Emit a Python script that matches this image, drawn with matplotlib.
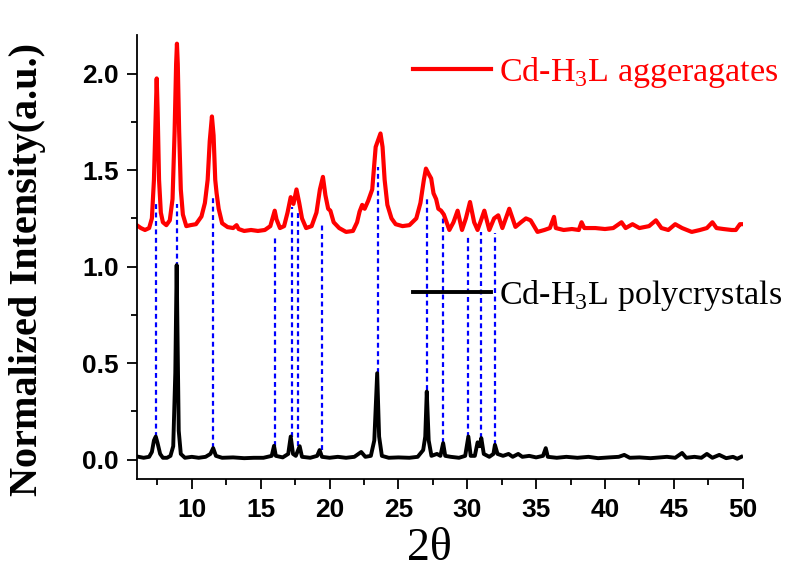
import matplotlib
matplotlib.use('Agg')
import matplotlib.pyplot as plt
from matplotlib.ticker import MultipleLocator

plt.rcParams['mathtext.fontset'] = 'custom'
plt.rcParams['mathtext.rm'] = 'Liberation Serif'

# Cd-H3L aggregates (red trace)
agg_x = [6.0, 6.3, 6.6, 6.9, 7.1, 7.25, 7.38, 7.45, 7.52, 7.62, 7.75, 7.9, 8.15, 8.4, 8.6,
         8.75, 8.86, 8.92, 8.98, 9.08, 9.2, 9.35, 9.6, 9.9, 10.3, 10.7, 10.95, 11.15, 11.3,
         11.46, 11.58, 11.7, 11.8, 11.95, 12.2, 12.6, 13.0, 13.25, 13.4, 13.8, 14.3, 14.8,
         15.3, 15.7, 15.9, 16.02, 16.15, 16.4, 16.7, 16.95, 17.18, 17.38, 17.6, 17.8, 18.0,
         18.3, 18.7, 19.05, 19.3, 19.52, 19.7, 19.9, 20.06, 20.3, 20.7, 21.2, 21.7, 22.0,
         22.18, 22.37, 22.55, 22.8, 23.1, 23.35, 23.55, 23.7, 23.85, 24.0, 24.2, 24.5, 24.8,
         25.3, 25.8, 26.3, 26.6, 26.85, 27.0, 27.2, 27.38, 27.55, 27.74, 27.9, 28.1, 28.3,
         28.7, 29.0, 29.3, 29.62, 29.9, 30.2, 30.5, 30.75, 31.0, 31.24, 31.6, 31.95, 32.25,
         32.55, 32.8, 33.05, 33.5, 33.9, 34.26, 34.6, 35.1, 35.6, 36.0, 36.3, 36.43, 37.0,
         37.6, 38.1, 38.3, 38.5, 39.3, 40.0, 40.6, 41.2, 41.5, 42.0, 42.5, 43.2, 43.7, 44.1,
         44.6, 45.1, 45.6, 46.3, 46.9, 47.4, 47.8, 48.1, 48.6, 49.2, 49.5, 49.8, 49.9]
agg_y = [1.215, 1.20, 1.19, 1.20, 1.25, 1.45, 1.80, 1.975, 1.80, 1.45, 1.28, 1.23, 1.215, 1.24, 1.35,
         1.70, 2.05, 2.155, 2.05, 1.70, 1.40, 1.27, 1.21, 1.215, 1.22, 1.26, 1.33, 1.45, 1.65,
         1.778, 1.68, 1.45, 1.38, 1.30, 1.225, 1.205, 1.20, 1.215, 1.195, 1.185, 1.19, 1.185,
         1.19, 1.21, 1.26, 1.29, 1.245, 1.20, 1.21, 1.28, 1.36, 1.325, 1.40, 1.33, 1.25,
         1.20, 1.21, 1.28, 1.40, 1.465, 1.37, 1.30, 1.29, 1.23, 1.20, 1.18, 1.185, 1.23,
         1.285, 1.32, 1.30, 1.34, 1.40, 1.62, 1.66, 1.69, 1.62, 1.45, 1.32, 1.25, 1.22,
         1.21, 1.215, 1.25, 1.33, 1.45, 1.508, 1.48, 1.457, 1.38, 1.35, 1.30, 1.29, 1.27,
         1.19, 1.23, 1.29, 1.19, 1.25, 1.335, 1.23, 1.19, 1.24, 1.29, 1.19, 1.25, 1.266,
         1.20, 1.25, 1.30, 1.206, 1.23, 1.25, 1.24, 1.18, 1.19, 1.20, 1.258, 1.20, 1.19,
         1.195, 1.19, 1.23, 1.20, 1.20, 1.195, 1.20, 1.23, 1.20, 1.22, 1.20, 1.21, 1.24, 1.20,
         1.19, 1.22, 1.20, 1.18, 1.19, 1.20, 1.23, 1.20, 1.195, 1.19, 1.19, 1.22, 1.22]

# Cd-H3L polycrystals (black trace)
poly_x = [6.0, 6.5, 6.9, 7.1, 7.25, 7.38, 7.5, 7.7, 7.9, 8.2, 8.45, 8.65, 8.8, 8.9, 8.97, 9.05,
          9.2, 9.5, 10.0, 10.5, 11.0, 11.35, 11.55, 11.75, 12.2, 13.0, 13.8, 14.5, 15.2, 15.8,
          15.97, 16.1, 16.6, 17.0, 17.18, 17.35, 17.55, 17.83, 18.0, 18.6, 19.1, 19.28, 19.45,
          20.0, 20.6, 21.2, 21.8, 22.3, 22.6, 23.0, 23.25, 23.46, 23.6, 23.8, 24.3, 25.0, 25.8,
          26.4, 26.8, 26.95, 27.06, 27.2, 27.4, 27.8, 28.05, 28.25, 28.4, 28.8, 29.4, 29.85,
          30.08, 30.25, 30.55, 30.75, 30.9, 31.02, 31.2, 31.6, 31.9, 32.01, 32.2, 32.6, 33.0,
          33.3, 33.7, 34.0, 34.5, 35.0, 35.5, 35.7, 35.85, 36.5, 37.2, 38.0, 38.8, 39.5, 40.3,
          41.0, 41.4, 41.8, 42.5, 43.3, 44.0, 44.5, 45.1, 45.6, 45.9, 46.5, 47.0, 47.4, 47.8,
          48.3, 48.8, 49.3, 49.6, 49.9]
poly_y = [0.017, 0.01, 0.015, 0.04, 0.10, 0.12, 0.09, 0.03, 0.01, 0.01, 0.02, 0.07, 0.45, 1.008, 0.60, 0.15,
          0.03, 0.01, 0.015, 0.01, 0.015, 0.03, 0.06, 0.02, 0.01, 0.012, 0.008, 0.01, 0.01, 0.02,
          0.072, 0.02, 0.012, 0.03, 0.12, 0.03, 0.02, 0.07, 0.015, 0.01, 0.02, 0.05, 0.015,
          0.01, 0.015, 0.01, 0.015, 0.04, 0.015, 0.02, 0.10, 0.448, 0.12, 0.02, 0.01, 0.012, 0.01,
          0.015, 0.05, 0.12, 0.353, 0.10, 0.02, 0.03, 0.02, 0.086, 0.02, 0.015, 0.01, 0.02,
          0.12, 0.02, 0.02, 0.09, 0.07, 0.112, 0.03, 0.015, 0.03, 0.077, 0.03, 0.02, 0.03,
          0.015, 0.03, 0.015, 0.02, 0.012, 0.02, 0.06, 0.015, 0.01, 0.015, 0.01, 0.015, 0.008, 0.012,
          0.015, 0.025, 0.01, 0.012, 0.008, 0.012, 0.015, 0.01, 0.035, 0.01, 0.015, 0.01, 0.03, 0.01,
          0.025, 0.008, 0.015, 0.005, 0.015]

# blue guide lines: peak position, bottom (black peak) and top (red trace)
guide_x = [7.38, 8.94, 11.53, 16.02, 17.27, 17.71, 19.43, 23.5, 27.06, 28.27, 30.08, 31.02, 32.01]
guide_lo = [0.12, 1.0, 0.06, 0.07, 0.12, 0.07, 0.05, 0.45, 0.36, 0.086, 0.12, 0.11, 0.077]
guide_hi = [1.336, 1.327, 1.355, 1.15, 1.31, 1.29, 1.215, 1.517, 1.362, 1.258, 1.155, 1.18, 1.172]

fig = plt.figure(figsize=(7.89, 5.70), dpi=100)
ax = fig.add_axes([0.1733, 0.1596, 0.768, 0.779])

ax.vlines(guide_x, guide_lo, guide_hi, colors='#0000FF', linestyles=(0, (2.2, 1.6)), linewidth=1.6)
l_agg, = ax.plot(agg_x, agg_y, color='#FF0000', linewidth=3.0, label='Cd-H$_3$L aggeragates')
l_poly, = ax.plot(poly_x, poly_y, color='black', linewidth=2.8, label='Cd-H$_3$L polycrystals')

ax.set_xlim(6, 50)
ax.set_ylim(-0.1, 2.2)
ax.xaxis.set_major_locator(MultipleLocator(5))
ax.xaxis.set_minor_locator(MultipleLocator(2.5))
ax.yaxis.set_major_locator(MultipleLocator(0.5))
ax.yaxis.set_minor_locator(MultipleLocator(0.25))
ax.spines['top'].set_visible(False)
ax.spines['right'].set_visible(False)
for s in ['left', 'bottom']:
    ax.spines[s].set_linewidth(1.3)
ax.tick_params(which='major', direction='out', length=7, width=1.3)
ax.tick_params(which='minor', direction='out', length=4, width=1.3)
ax.tick_params(axis='x', which='major', pad=7)
ax.tick_params(axis='y', which='major', pad=6)
for lab in ax.get_xticklabels() + ax.get_yticklabels():
    lab.set_fontfamily('Liberation Sans')
    lab.set_fontweight('bold')
    lab.set_fontsize(19)

leg_font = {'family': 'Liberation Serif', 'size': 24.5}
leg1 = ax.legend(handles=[l_agg], loc='center left', bbox_to_anchor=(0.4554, 0.915),
                 frameon=False, prop=leg_font, labelcolor='linecolor', borderpad=0,
                 borderaxespad=0, handlelength=2.3, handletextpad=0.25)
ax.add_artist(leg1)
ax.legend(handles=[l_poly], loc='center left', bbox_to_anchor=(0.4554, 0.4144),
          frameon=False, prop=leg_font, labelcolor='linecolor', borderpad=0,
          borderaxespad=0, handlelength=2.3, handletextpad=0.25)

fig.text(28 / 789, 1 - 269 / 570, 'Normalized Intensity(a.u.)', rotation=90,
         ha='center', va='center', fontfamily='Liberation Serif', fontweight='bold', fontsize=29)
fig.text(429 / 789, 1 - 549 / 570, '2θ', ha='center', va='center',
         fontfamily='Liberation Serif', fontsize=33)

fig.savefig('out.png', dpi=100)
